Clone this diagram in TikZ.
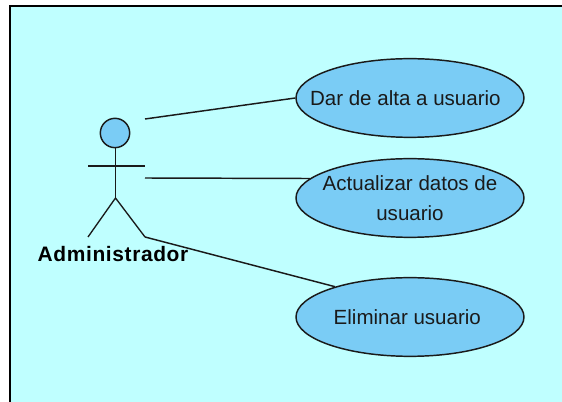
\documentclass[tikz,border=0pt]{standalone}
\usepackage{fontspec}
\setmainfont{Liberation Sans}
\usetikzlibrary{shapes.geometric}
\definecolor{bgcyan}{HTML}{BFFFFF}
\definecolor{ucblue}{HTML}{7ACCF5}
\definecolor{ink}{HTML}{1A1A1A}
\tikzset{
  usecase/.style={ellipse,draw=ink,fill=ucblue,line width=1.1pt,minimum width=171pt,minimum height=59pt,inner xsep=-40pt,inner ysep=-25pt,align=center,font=\fontsize{15.4pt}{22pt}\selectfont,text=ink},
  actorline/.style={draw=ink,line width=1pt},
  assoc/.style={draw=ink,line width=1.1pt},
  head/.style={circle,draw=ink,fill=ucblue,line width=1.1pt,minimum size=22pt,inner sep=0pt}
}
\begin{document}
\begin{tikzpicture}[x=0.75pt,y=-0.75pt]
\useasboundingbox (0,0) rectangle (562,402);
\fill[white] (0,0) rectangle (562,402);
\fill[bgcyan] (10,6) rectangle (562,402);
\draw[black,line width=1.2pt] (10,402) -- (10,6) -- (562,6);
\node[head] (headn) at (115,133) {};
\coordinate (neck) at (115.5,148);
\coordinate (hip) at (115.5,198);
\coordinate (armL) at (88,166);
\coordinate (armR) at (145,166);
\coordinate (legL) at (88,237);
\coordinate (legR) at (145,237);
\coordinate (c1) at (145,119);
\coordinate (c2) at (145,178);
\draw[actorline] (neck) -- (hip);
\draw[actorline] (armL) -- (armR);
\draw[actorline] (legL) -- (hip) -- (legR);
\node[usecase] (e1) at (410,98) {Dar de alta a usuario\hspace*{7pt}};
\node[usecase] (e2) at (410,198) {Actualizar datos de\\usuario};
\node[usecase] (e3) at (410,317) {Eliminar usuario\hspace*{4pt}};
\draw[assoc] (c1) -- (e1.west);
\draw[assoc] (c2) -- (e2.169);
\draw[assoc] (legR) -- (e3.158);
\node[inner sep=0pt,font=\bfseries\fontsize{15.7pt}{17pt}\selectfont,text=black] (actorlabel) at (113,254) {\addfontfeature{LetterSpace=3}Administrador};
\end{tikzpicture}
\end{document}
